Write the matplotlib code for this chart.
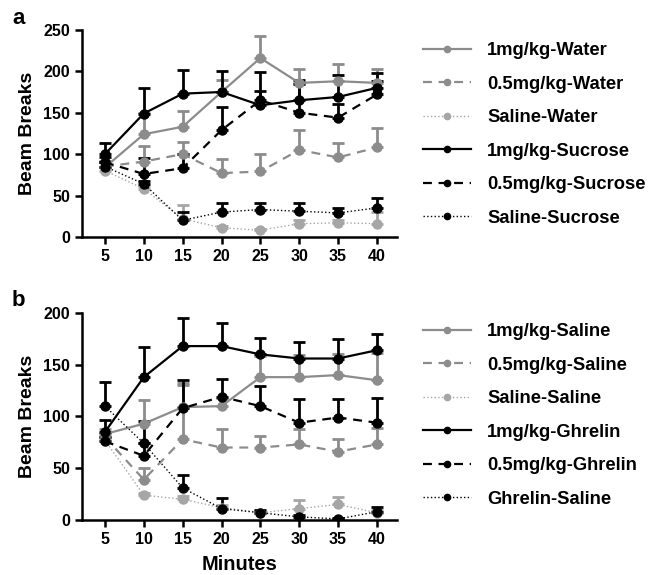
import numpy as np
import matplotlib
matplotlib.use("Agg")
import matplotlib.pyplot as plt
from matplotlib.lines import Line2D

plt.rcParams['font.family'] = ['Liberation Sans', 'DejaVu Sans']
plt.rcParams['font.weight'] = 'bold'

minutes = [5, 10, 15, 20, 25, 30, 35, 40]

# panel a: means and upper error (cap value)
labels_a = ["1mg/kg-Water", "0.5mg/kg-Water", "Saline-Water",
            "1mg/kg-Sucrose", "0.5mg/kg-Sucrose", "Saline-Sucrose"]
water_1 = [84, 124, 133, 175, 216, 186, 188, 186]
water_1_cap = [92, 150, 152, 190, 243, 203, 209, 203]
water_05 = [85, 91, 100, 77, 79, 105, 96, 108]
water_05_cap = [90, 110, 115, 94, 100, 129, 113, 131]
water_sal = [80, 58, 22, 11, 8, 16, 17, 16]
water_sal_cap = [84, 62, 38, 13, 10, 20, 21, 30]
suc_1 = [100, 149, 173, 175, 159, 165, 169, 180]
suc_1_cap = [114, 180, 202, 200, 199, 189, 196, 198]
suc_05 = [90, 76, 83, 129, 165, 150, 144, 172]
suc_05_cap = [96, 95, 100, 157, 176, 185, 160, 188]
suc_sal = [85, 64, 20, 30, 33, 31, 29, 35]
suc_sal_cap = [90, 68, 30, 41, 41, 41, 35, 47]

# panel b
labels_b = ["1mg/kg-Saline", "0.5mg/kg-Saline", "Saline-Saline",
            "1mg/kg-Ghrelin", "0.5mg/kg-Ghrelin", "Ghrelin-Saline"]
sal_1 = [83, 93, 109, 110, 138, 138, 140, 135]
sal_1_cap = [88, 116, 132, 118, 158, 159, 160, 161]
sal_05 = [80, 39, 78, 70, 70, 73, 66, 73]
sal_05_cap = [84, 50, 130, 88, 81, 88, 78, 89]
sal_sal = [77, 24, 20, 12, 7, 11, 15, 7]
sal_sal_cap = [80, 26, 23, 14, 9, 19, 22, 10]
ghr_1 = [85, 138, 168, 168, 160, 156, 156, 164]
ghr_1_cap = [97, 167, 195, 190, 176, 172, 175, 180]
ghr_05 = [76, 62, 108, 119, 110, 94, 99, 94]
ghr_05_cap = [80, 74, 135, 136, 129, 117, 117, 118]
ghr_sal = [110, 74, 31, 11, 7, 3, 1, 8]
ghr_sal_cap = [133, 96, 43, 21, 10, 5, 2, 13]

GRAY = "#8c8c8c"
LGRAY = "#a6a6a6"
styles = [
    dict(color=GRAY, ls="-", lw=1.6),
    dict(color=GRAY, ls=(0, (4, 3)), lw=1.6),
    dict(color=LGRAY, ls=":", lw=1.0),
    dict(color="black", ls="-", lw=1.6),
    dict(color="black", ls=(0, (4, 3)), lw=1.6),
    dict(color="black", ls=":", lw=1.0),
]

fig = plt.figure(figsize=(6.69, 5.75), dpi=100)
ax_a = fig.add_axes([0.1226, 0.588, 0.471, 0.36])
ax_b = fig.add_axes([0.1226, 0.0957, 0.471, 0.36])


def draw_panel(ax, series, caps, labels, ymax, yticks, leg_y):
    x = np.array(minutes)
    for s, c, st in zip(series, caps, styles):
        s = np.array(s)
        up = np.array(c) - s
        ax.errorbar(x, s, yerr=[np.zeros_like(up), up], fmt="none",
                    ecolor=st["color"], elinewidth=2, capsize=4, capthick=2,
                    zorder=2)
        ax.plot(x, s, color=st["color"], ls=st["ls"], lw=st["lw"],
                marker="o", ms=6.5, mec=st["color"], zorder=3)
    ax.set_xlim(2.05, 42.6)
    ax.set_ylim(0, ymax)
    ax.set_xticks(minutes)
    ax.set_yticks(yticks)
    for side in ["top", "right"]:
        ax.spines[side].set_visible(False)
    for side in ["left", "bottom"]:
        ax.spines[side].set_linewidth(1.8)
    ax.tick_params(width=1.8, length=5, labelsize=11.5)
    ax.set_ylabel("Beam Breaks", fontsize=14, fontweight="bold", labelpad=5)
    handles = [Line2D([], [], color=st["color"], ls=st["ls"], lw=st["lw"],
                      marker="o", ms=4.5) for st in styles]
    ax.legend(handles, labels, loc="upper left", bbox_to_anchor=(1.03, leg_y),
              frameon=False, fontsize=13.2, handlelength=2.6,
              labelspacing=0.9, handletextpad=0.9)


draw_panel(ax_a, [water_1, water_05, water_sal, suc_1, suc_05, suc_sal],
           [water_1_cap, water_05_cap, water_sal_cap, suc_1_cap, suc_05_cap, suc_sal_cap],
           labels_a, 250, [0, 50, 100, 150, 200, 250], 1.02)
draw_panel(ax_b, [sal_1, sal_05, sal_sal, ghr_1, ghr_05, ghr_sal],
           [sal_1_cap, sal_05_cap, sal_sal_cap, ghr_1_cap, ghr_05_cap, ghr_sal_cap],
           labels_b, 200, [0, 50, 100, 150, 200], 1.03)
ax_b.set_xlabel("Minutes", fontsize=14.5, fontweight="bold", labelpad=6)

fig.text(0.027, 0.968, "a", fontsize=16, fontweight="bold", va="center", ha="center")
fig.text(0.027, 0.478, "b", fontsize=16, fontweight="bold", va="center", ha="center")

fig.savefig("out.png", dpi=100)
